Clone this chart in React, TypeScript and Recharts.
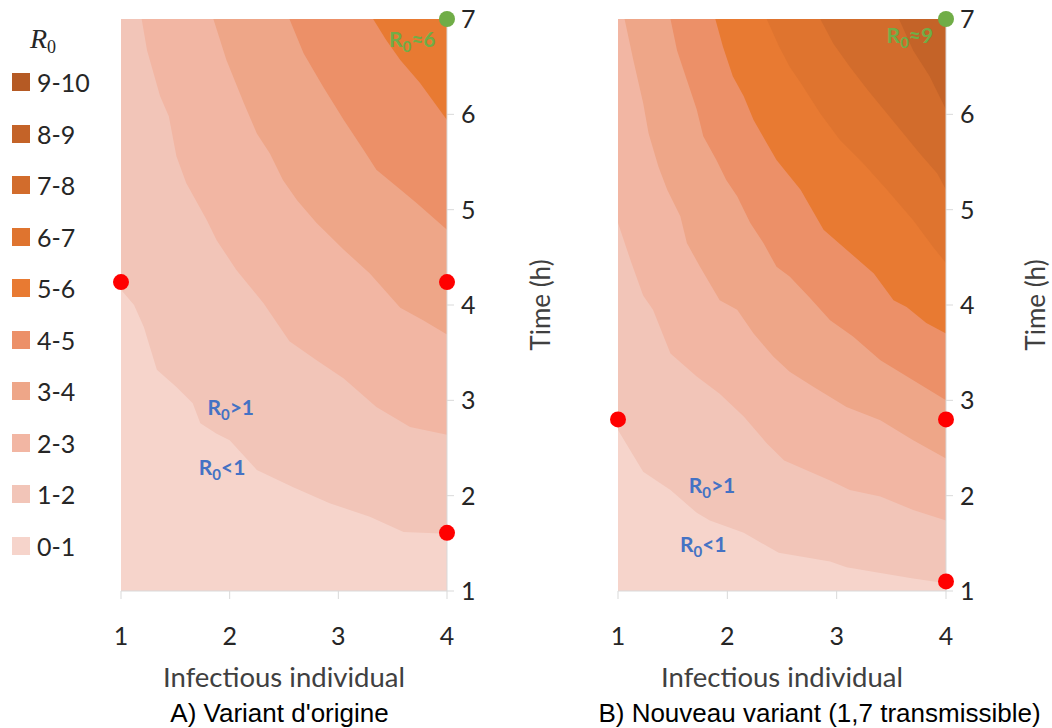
import React from 'react';
import { ComposedChart, Area, XAxis, YAxis, Scatter } from 'recharts';

// ---------- data ----------
const legendLabels = ['9-10', '8-9', '7-8', '6-7', '5-6', '4-5', '3-4', '2-3', '1-2', '0-1'];
// colour of band whose lower R0 level = index
const bandColors = ['#F6D4CB', '#F2C5B8', '#F2B6A3', '#EEA688', '#EC9068', '#E87A32', '#DF742F', '#D26C2C', '#C46328', '#B55A24'];

const xTicks = [1, 2, 3, 4];
const yTicks = [1, 2, 3, 4, 5, 6, 7];
const plotFloor = [[1, 1], [4, 1]];

// Panel A: contour lines R0 = 1..5 as [infectious individual, time (h)]
const contourA1 = [[1, 4.16], [1.12, 4.0], [1.21, 3.77], [1.33, 3.32], [1.51, 3.14], [1.66, 2.97], [1.73, 2.76], [1.88, 2.65], [2.0, 2.58], [2.25, 2.27], [2.58, 2.09], [2.92, 1.92], [3.29, 1.78], [3.6, 1.62], [4.0, 1.6]];
const contourA2 = [[1.19, 7], [1.24, 6.67], [1.36, 6.19], [1.44, 5.98], [1.51, 5.56], [1.6, 5.28], [1.79, 4.89], [1.88, 4.68], [2.06, 4.37], [2.31, 4.02], [2.55, 3.62], [2.8, 3.42], [3.05, 3.23], [3.35, 2.93], [3.66, 2.72], [4.0, 2.64]];
const contourA3 = [[1.85, 7], [1.97, 6.57], [2.13, 6.12], [2.25, 5.8], [2.37, 5.59], [2.49, 5.31], [2.62, 5.1], [2.8, 4.86], [3.05, 4.58], [3.29, 4.33], [3.57, 3.97], [3.78, 3.84], [4.0, 3.69]];
const contourA4 = [[2.55, 7], [2.68, 6.64], [2.86, 6.29], [3.05, 5.94], [3.23, 5.63], [3.35, 5.42], [3.54, 5.24], [3.72, 5.07], [4.0, 4.79]];
const contourA5 = [[3.32, 7], [3.44, 6.78], [3.57, 6.57], [3.75, 6.33], [4.0, 5.94]];

// Panel B: contour lines R0 = 1..8
const contourB1 = [[1, 2.69], [1.11, 2.48], [1.23, 2.25], [1.48, 2.06], [1.72, 1.82], [1.84, 1.74], [2.15, 1.61], [2.47, 1.4], [2.94, 1.31], [3.09, 1.25], [3.4, 1.19], [3.7, 1.13], [4.0, 1.08]];
const contourB2 = [[1, 4.86], [1.12, 4.45], [1.23, 4.1], [1.32, 3.95], [1.48, 3.49], [1.72, 3.25], [1.93, 3.07], [2.15, 2.83], [2.36, 2.55], [2.52, 2.37], [2.94, 2.16], [3.12, 2.06], [3.4, 1.99], [3.7, 1.85], [4.0, 1.74]];
const contourB3 = [[1.06, 7], [1.14, 6.57], [1.23, 6.12], [1.28, 5.8], [1.37, 5.45], [1.45, 5.21], [1.57, 4.93], [1.63, 4.65], [1.75, 4.4], [1.93, 4.05], [2.09, 3.95], [2.24, 3.7], [2.42, 3.46], [2.57, 3.3], [2.79, 3.14], [3.09, 2.93], [3.4, 2.79], [3.7, 2.58], [4.0, 2.39]];
const contourB4 = [[1.48, 7], [1.54, 6.67], [1.63, 6.36], [1.72, 6.05], [1.78, 5.77], [1.9, 5.52], [1.99, 5.31], [2.09, 5.14], [2.21, 4.86], [2.33, 4.65], [2.45, 4.4], [2.57, 4.3], [2.75, 4.08], [2.94, 3.84], [3.15, 3.67], [3.4, 3.42], [3.7, 3.21], [4.0, 3.0]];
const contourB5 = [[1.89, 7], [1.96, 6.71], [2.05, 6.4], [2.15, 6.19], [2.24, 5.94], [2.36, 5.7], [2.45, 5.52], [2.57, 5.35], [2.67, 5.21], [2.88, 4.79], [3.09, 4.58], [3.34, 4.33], [3.52, 4.05], [3.64, 3.98], [3.82, 3.81], [4.0, 3.7]];
const contourB6 = [[2.36, 7], [2.47, 6.72], [2.57, 6.5], [2.67, 6.33], [2.85, 6.01], [3.03, 5.73], [3.24, 5.49], [3.46, 5.21], [3.7, 4.89], [3.88, 4.61], [4.0, 4.44]];
const contourB7 = [[2.85, 7], [2.97, 6.74], [3.12, 6.5], [3.28, 6.26], [3.43, 6.05], [3.58, 5.84], [3.76, 5.59], [3.92, 5.38], [4.0, 5.21]];
const contourB8 = [[3.57, 7], [3.7, 6.67], [3.85, 6.4], [4.0, 6.05]];

const redDotsA = [[1, 4.24], [4, 4.24], [4, 1.61]];
const greenDotsA = [[4, 7]];
const redDotsB = [[1, 2.8], [4, 2.8], [4, 1.1]];
const greenDotsB = [[4, 7]];

const notesA = [{ x: 2.01, t: 2.85, rel: '>1' }, { x: 1.93, t: 2.22, rel: '<1' }];
const peakA = [{ x: 3.68, t: 6.71, rel: '≈6' }];
const notesB = [{ x: 1.86, t: 2.03, rel: '>1' }, { x: 1.78, t: 1.41, rel: '<1' }];
const peakB = [{ x: 3.67, t: 6.75, rel: '≈9' }];

// ---------- helpers ----------
const toPts = (arr: number[][]) => arr.map(([x, t]) => ({ x, t }));

const FONT = 'Lato, "Open Sans", sans-serif';
const TICK_COLOR = '#262626';
const AXIS_GRAY = '#D9D9D9';

const dotShape = (color: string) => (p: any) => (
  <circle cx={p.cx} cy={p.cy} r={8} fill={color} />
);

const noteShape = (color: string) => (p: any) => (
  <text x={p.cx} y={p.cy} textAnchor="middle" fill={color} fontFamily={FONT} fontWeight={700} fontSize={21}>
    R<tspan fontSize={15} dy={5}>0</tspan><tspan dy={-5}>{p.payload.rel}</tspan>
  </text>
);

type PanelProps = {
  left: number;
  width: number;
  marginLeft: number;
  yAxisWidth: number;
  labelDx: number;
  contours: number[][][];
  red: number[][];
  green: number[][];
  notes: any[];
  peak: any[];
};

function Panel(props: PanelProps) {
  const { left, width, marginLeft, yAxisWidth, labelDx, contours, red, green, notes, peak } = props;
  return (
    <div style={{ position: 'absolute', left, top: 0 }}>
      <ComposedChart width={width} height={728} margin={{ top: 19, right: 0, bottom: 0, left: marginLeft }}>
        <XAxis
          type="number"
          dataKey="x"
          domain={[1, 4]}
          ticks={xTicks}
          height={137}
          tickSize={8}
          tickMargin={28}
          axisLine={{ stroke: AXIS_GRAY }}
          tickLine={{ stroke: AXIS_GRAY }}
          tick={{ fill: TICK_COLOR, fontSize: 25, fontFamily: FONT }}
          label={{ value: 'Infectious individual', position: 'center', dy: 18, fill: '#404040', fontSize: 27.5, fontFamily: FONT }}
        />
        <YAxis
          type="number"
          dataKey="t"
          orientation="right"
          domain={[1, 7]}
          ticks={yTicks}
          width={yAxisWidth}
          tickSize={7}
          tickMargin={7}
          axisLine={{ stroke: AXIS_GRAY }}
          tickLine={{ stroke: AXIS_GRAY }}
          tick={{ fill: TICK_COLOR, fontSize: 25, fontFamily: FONT }}
          label={{ value: 'Time (h)', angle: -90, position: 'center', dx: labelDx, fill: '#404040', fontSize: 26, fontFamily: FONT }}
        />
        <Area
          data={toPts(plotFloor)}
          dataKey="t"
          type="linear"
          baseValue={7}
          fill={bandColors[0]}
          fillOpacity={1}
          stroke="none"
          isAnimationActive={false}
          activeDot={false}
        />
        {contours.map((c, i) => (
          <Area
            key={i}
            data={toPts(c)}
            dataKey="t"
            type="linear"
            baseValue={7}
            fill={bandColors[i + 1]}
            fillOpacity={1}
            stroke="none"
            isAnimationActive={false}
            activeDot={false}
          />
        ))}
        <Scatter data={notes} dataKey="t" shape={noteShape('#4472C4')} isAnimationActive={false} />
        <Scatter data={peak} dataKey="t" shape={noteShape('#70AD47')} isAnimationActive={false} />
        <Scatter data={toPts(red)} dataKey="t" shape={dotShape('#FF0000')} isAnimationActive={false} />
        <Scatter data={toPts(green)} dataKey="t" shape={dotShape('#70AD47')} isAnimationActive={false} />
      </ComposedChart>
    </div>
  );
}

export default function App() {
  return (
    <div style={{ position: 'absolute', left: 0, top: 0, width: 1052, height: 728, background: '#fff', overflow: 'hidden' }}>
      <Panel
        left={0}
        width={560}
        marginLeft={121}
        yAxisWidth={113}
        labelDx={37}
        contours={[contourA1, contourA2, contourA3, contourA4, contourA5]}
        red={redDotsA}
        green={greenDotsA}
        notes={notesA}
        peak={peakA}
      />
      <Panel
        left={560}
        width={492}
        marginLeft={58}
        yAxisWidth={106}
        labelDx={37}
        contours={[contourB1, contourB2, contourB3, contourB4, contourB5, contourB6, contourB7, contourB8]}
        red={redDotsB}
        green={greenDotsB}
        notes={notesB}
        peak={peakB}
      />

      {/* legend */}
      <div style={{ position: 'absolute', left: 30, top: 24, fontFamily: '"Liberation Serif", serif', fontStyle: 'italic', fontSize: 28, lineHeight: '30px', color: '#262626' }}>
        R<span style={{ fontStyle: 'normal', fontSize: 18, position: 'relative', top: 5 }}>0</span>
      </div>
      {legendLabels.map((lab, i) => {
        const cy = 82 + i * 51.5;
        return (
          <div key={lab} style={{ position: 'absolute', left: 12, top: cy - 15, height: 30, display: 'flex', alignItems: 'center' }}>
            <div style={{ width: 18, height: 18, background: bandColors[9 - i] }} />
            <span style={{ marginLeft: 7, fontFamily: FONT, fontSize: 25, color: TICK_COLOR, lineHeight: '30px' }}>{lab}</span>
          </div>
        );
      })}

      {/* captions */}
      <div style={{ position: 'absolute', left: 79.5, top: 698, width: 400, textAlign: 'center', fontFamily: '"Liberation Sans", Arial, sans-serif', fontSize: 26, lineHeight: '30px', color: '#000' }}>
        A) Variant d'origine
      </div>
      <div style={{ position: 'absolute', left: 569.5, top: 698, width: 500, textAlign: 'center', fontFamily: '"Liberation Sans", Arial, sans-serif', fontSize: 26, lineHeight: '30px', color: '#000', whiteSpace: 'nowrap' }}>
        B) Nouveau variant (1,7 transmissible)
      </div>
    </div>
  );
}
